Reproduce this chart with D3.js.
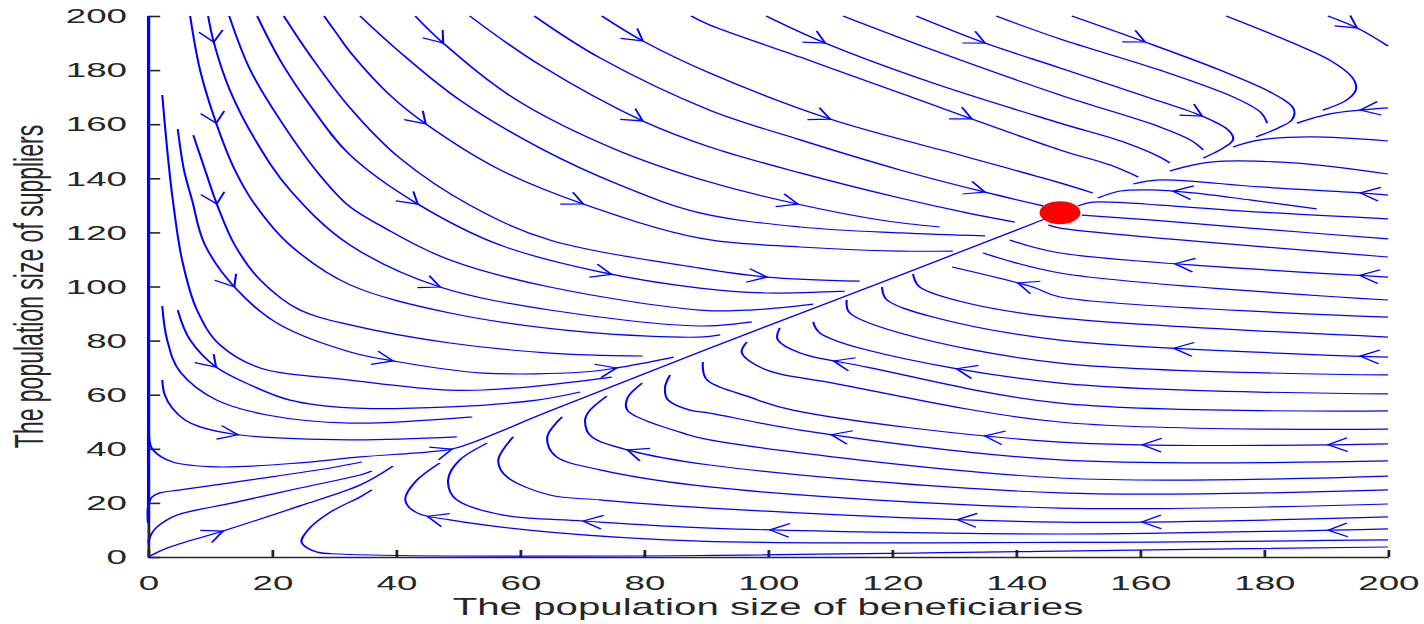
<!DOCTYPE html>
<html><head><meta charset="utf-8">
<script src="https://cdn.jsdelivr.net/npm/d3@7"></script>
<style>body{margin:0;background:#fff}svg{display:block}</style>
</head><body><svg id="c" width="1424" height="624"></svg>
<script>
// ---------- data ----------
const xTicks = [0,20,40,60,80,100,120,140,160,180,200];
const yTicks = [0,20,40,60,80,100,120,140,160,180,200];
const xTitle = "The population size of beneficiaries";
const yTitle = "The population size of suppliers";
const equilibrium = [147.1, 127.3];

// streamlines entering from the top (flow: down / right)
const streamsTop = [
 [[190.3,200],[195.0,195.6],[200,188.9]],
 [[173.9,200],[184.7,190.0],[190.6,183.7],[194.2,177.4],[194.8,172.6],[193.1,168.6],[189.5,165.2]],
 [[149.0,200],[160.8,190.4],[172.9,180.0],[181.0,171.9],[184.7,166.0],[184.5,161.6],[182.3,158.6],[178.7,155.3]],
 [[136.8,200],[147.1,191.5],[163.2,180.0],[175.0,170.1],[179.4,164.5],[180.5,160.4]],
 [[123.9,200],[135.0,190.0],[147.1,180.8],[161.6,169.7],[170.0,163.0],[174.2,157.9],[175.0,154.2],[172.9,150.5],[170.2,147.5]],
 [[112.1,200],[126.6,187.4],[147.1,170.8],[163.2,159.0],[168.1,154.2],[170.2,150.5]],
 [[99.7,200],[109.2,190.0],[126.6,175.2],[147.1,160.4],[157.9,153.0],[163.2,147.9],[164.8,145.7]],
 [[87.6,200],[90.6,196.7],[105.2,184.8],[121.3,171.5],[147.1,150.5],[155.2,144.9],[159.7,140.5]],
 [[73.2,200],[79.8,190.8],[90.6,178.9],[110.0,161.9],[132.1,147.9],[147.1,138.3],[152.4,134.6]],
 [[62.3,200],[72.9,184.5],[90.6,165.2],[105.2,154.2],[121.3,143.1],[135.0,134.9],[144.4,129.8]],
 [[51.9,200],[63.2,181.9],[79.8,161.2],[90.6,151.6],[105.2,142.0],[121.3,132.7],[132.1,127.2],[139.8,123.8]],
 [[43.1,200],[47.6,190.0],[59.5,168.9],[75.6,150.5],[90.6,138.6],[104.7,130.5],[118.1,124.6],[127.7,122.0]],
 [[34.2,200],[40.6,186.7],[50.3,168.9],[63.2,151.2],[76.1,137.5],[89.0,127.2],[105.2,122.0],[121.3,119.8],[135.0,118.7]],
 [[28.4,200],[30.5,193.3],[32.6,186.7],[39.0,170.8],[44.8,160.1],[56.8,143.1],[70.2,130.5],[89.0,117.9],[105.2,114.6],[121.3,113.1],[129.8,113.1]],
 [[21.9,200],[26.1,185.6],[32.6,166.0],[40.6,147.5],[51.9,130.1],[64.8,117.2],[89.0,106.8],[99.8,103.5],[114.8,102.0]],
 [[17.6,200],[21.3,183.7],[26.1,167.1],[32.6,148.6],[43.5,130.5],[56.8,115.3],[72.9,105.4],[89.0,99.4],[99.8,97.6],[112.4,98.3]],
 [[13.1,200],[16.5,180.0],[21.3,161.6],[27.7,141.2],[32.6,129.4],[37.9,122.0],[48.7,109.8],[64.8,99.8],[89.0,91.3],[97.1,91.3],[107.3,93.5]],
 [[9.7,200],[10.6,190.4],[13.2,172.6],[17.3,154.2],[22.9,135.7],[32.6,115.3],[47.1,99.8],[64.8,91.3],[89.0,85.4],[97.4,86.9]],
 [[6.8,200],[8.4,180.0],[11.0,160.4],[14.0,143.1],[17.3,130.1],[22.9,115.3],[32.6,100.6],[48.7,90.2],[70.2,83.2],[89.0,81.3],[92.3,82.1]]
];

// streamlines starting near the supplier axis (flow: down, then right)
const streamsLeft = [
 [[7.3,156.0],[9.2,143.1],[11.1,130.5],[14.0,115.3],[18.1,102.4],[24.5,91.3],[32.6,85.8],[48.7,79.1],[64.8,75.4],[79.8,74.3]],
 [[4.8,158.2],[5.8,143.1],[7.1,132.0],[9.2,115.3],[14.4,98.7],[21.3,85.8],[32.6,75.8],[39.5,72.5],[54.0,68.0],[70.2,68.4],[75.6,69.9],[84.8,73.9]],
 [[2.3,170.8],[3.1,150.5],[4.0,132.0],[5.5,109.8],[7.9,91.3],[11.6,78.4],[18.1,69.9],[32.6,65.4],[48.7,61.7],[59.5,62.5],[74.8,66.5]],
 [[4.8,91.3],[6.8,80.2],[11.0,70.2],[16.5,63.6],[22.9,58.0],[32.6,55.1],[48.7,55.5],[62.7,58.0],[69.7,61.0]],
 [[2.3,92.8],[3.1,80.2],[5.2,68.4],[11.1,58.0],[19.2,52.5],[32.6,49.5],[52.3,51.8]],
 [[2.3,65.4],[2.7,59.9],[3.9,55.1],[6.0,50.6],[8.4,48.1],[14.8,45.1],[32.6,43.3],[49.8,44.4]]
];

// streamlines near the origin, the axis line and the separatrix into the equilibrium
const streamsOrigin = [
 [[0,200],[0,12.6]],
 [[0.1,58.0],[0.1,45.8],[0.8,39.6],[4.0,35.1],[11.1,33.3],[24.5,34.8],[34.2,37.0],[45.0,38.8],[49.0,39.9],[65.2,54.3],[89.0,75.8],[121.3,104.2],[144.7,125.0],[147.1,127.2]],
 [[0,12.6],[0,18.5],[0.65,22.2],[1.9,23.7],[5.2,24.8],[16.5,28.5],[29.4,32.9],[34.5,35.1]],
 [[0,5.2],[0.65,8.9],[1.45,11.1],[4.7,15.5],[13.7,20.0],[24.5,25.5],[34.2,30.3],[36.1,31.8]],
 [[0,0],[3.1,3.3],[12.1,9.6],[24.5,18.9],[34.2,26.6],[39.5,33.6]],
 [[200,3.7],[147.1,2.2],[89.0,0.55],[40.6,0.55],[31.0,1.1],[27.3,1.8],[24.8,5.2],[25.8,10.0],[29.4,16.6],[34.2,22.2],[36.1,24.8]]
];

// streamlines entering from the right below the equilibrium (flow: left, then up to the separatrix)
const streamsLower = [
 [[200,6.3],[147.1,5.4],[89.0,5.9],[64.8,9.2],[48.7,13.7],[43.4,16.3],[41.5,21.1],[43.4,28.5],[47.1,34.8]],
 [[200,10.4],[147.1,8.5],[90.6,10.7],[70.2,13.3],[57.3,15.5],[49.8,21.1],[48.4,28.5],[50.3,35.9],[54.7,42.1]],
 [[200,14.8],[147.1,12.9],[90.6,18.1],[72.9,21.1],[64.8,22.9],[57.9,29.6],[56.5,35.9],[58.9,44.4]],
 [[200,19.6],[147.1,18.1],[90.6,25.9],[72.9,32.2],[65.9,37.0],[64.4,44.4],[66.8,51.8]],
 [[200,24.8],[147.1,23.7],[90.6,34.0],[77.3,39.6],[71.6,44.4],[70.5,50.6],[71.3,54.3],[74.0,59.5]],
 [[200,29.9],[147.1,29.2],[90.6,43.3],[86.3,45.8],[78.9,51.8],[77.3,54.3],[77.4,59.1],[79.7,64.3]],
 [[200,35.5],[147.1,35.9],[105.2,46.9],[90.6,53.2],[87.4,54.3],[83.9,58.0],[83.4,62.8],[84.2,67.3]],
 [[200,41.8],[147.1,42.5],[104.0,54.3],[97.1,59.1],[90.2,65.4],[89.5,72.1]],
 [[200,47.3],[147.1,49.9],[110.5,64.3],[99.8,69.1],[95.8,75.4],[96.6,79.5]],
 [[200,54.0],[147.1,56.9],[116.0,70.2],[105.2,75.4],[101.6,80.2],[101.9,84.7]],
 [[200,60.3],[147.1,64.3],[116.0,76.5],[108.4,82.8],[107.3,86.9]],
 [[200,67.3],[147.1,71.7],[121.3,82.8],[113.2,90.2],[112.7,95.0]],
 [[200,73.9],[147.1,80.2],[126.6,88.7],[119.2,95.0],[118.4,99.8]],
 [[200,81.3],[147.1,88.4],[132.1,93.9],[124.5,99.8],[123.4,104.6]],
 [[200,88.7],[147.1,96.1],[142.7,99.8],[129.7,107.2]],
 [[200,95.0],[147.1,105.0],[134.7,112.4]],
 [[200,103.5],[147.1,112.4],[139.0,117.2]],
 [[200,110.9],[147.1,121.6],[145.2,122.7]]
];

// streamlines entering from the right above the equilibrium (flow: left)
const streamsRight = [
 [[200,125.0],[179.4,127.5],[163.2,130.1],[157.9,130.9],[152.4,131.2],[150.0,129.8]],
 [[200,117.6],[177.7,121.6],[161.6,124.6],[150.6,126.4]],
 [[188.5,128.7],[177.7,132.0],[168.5,134.6],[161.6,135.7],[156.8,135.3],[153.2,132.7]],
 [[200,133.8],[195.5,134.6],[179.4,136.8],[163.2,139.4],[158.9,137.9]],
 [[200,141.6],[184.7,145.7],[171.3,146.0],[164.8,142.7]],
 [[200,153.8],[187.4,155.3],[179.4,154.2],[175.0,151.6]],
 [[200,166.0],[195.5,165.2],[190.6,163.8],[185.3,160.4]]
];

// where the arrowheads sit
const arrowPts = [
 [10.6,190.4],[47.6,190.0],[79.8,190.8],[109.2,190.0],[135.0,190.0],[160.8,190.4],[195.0,195.6],
 [11.0,160.4],[44.8,160.1],[79.8,161.2],[110.0,161.9],[132.1,160.4],[170.0,163.0],[195.5,165.2],
 [11.1,130.5],[43.5,130.5],[70.2,130.5],[104.7,130.1],[135.0,134.9],[165.3,134.9],[195.5,134.6],
 [14.4,100.2],[47.1,99.8],[75.0,105.4],[99.8,103.5],[139.8,99.8],[165.3,105.0],[195.5,105.0],
 [11.0,70.2],[39.5,72.5],[75.6,69.9],[110.0,69.9],[130.5,69.9],[165.3,74.7],[195.5,74.7],
 [14.5,45.1],[49.0,39.9],[77.3,39.6],[110.0,44.0],[135.0,45.1],[160.3,40.3],[190.3,42.5],
 [12.1,9.6],[45.0,14.8],[70.2,13.7],[100.3,10.0],[130.5,13.7],[160.3,11.8],[190.3,11.1]
];

// ---------- drawing ----------
const SX = 1.75;                      // the picture is stretched horizontally
const font = '"Liberation Sans", Arial, Helvetica, sans-serif';
const ink = '#262626';
const blue = '#0000ff';

const svg = d3.select('#c');
const g = svg.append('g').attr('transform', `scale(${SX},1)`);

const x = d3.scaleLinear().domain([0,200]).range([148/SX, 1388/SX]);
const y = d3.scaleLinear().domain([0,200]).range([557, 16]);

// axes
const gx = g.append('g').attr('transform', `translate(0,${y(0)})`)
  .call(d3.axisBottom(x).tickValues(xTicks).tickSizeInner(-7).tickSizeOuter(0).tickPadding(18));
const gy = g.append('g').attr('transform', `translate(${x(0)},0)`)
  .call(d3.axisLeft(y).tickValues(yTicks).tickSizeInner(-7).tickSizeOuter(0).tickPadding(12));
[gx, gy].forEach(a => {
  a.select('.domain').attr('stroke', ink).attr('stroke-width', 1.6);
  a.selectAll('.tick line').attr('stroke', ink).attr('stroke-width', 1.6);
  a.selectAll('.tick text').attr('fill', ink).style('font-family', font).style('font-size', '21px');
});

g.append('text').attr('x', (x(0)+x(200))/2).attr('y', 615)
  .attr('text-anchor','middle').attr('fill', ink)
  .style('font-family', font).style('font-size','23px').text(xTitle);
g.append('text').attr('transform', `translate(24.6,${(y(0)+y(200))/2}) rotate(-90)`)
  .attr('text-anchor','middle').attr('fill', ink)
  .style('font-family', font).style('font-size','23px').text(yTitle);

// streamlines
const line = d3.line().x(d => x(d[0])).y(d => y(d[1])).curve(d3.curveCatmullRom.alpha(0.5));
const allStreams = [...streamsTop, ...streamsLeft, ...streamsOrigin, ...streamsLower, ...streamsRight];
const paths = g.append('g').selectAll('path').data(allStreams).join('path')
  .attr('d', line).attr('fill','none').attr('stroke', blue).attr('stroke-width', 1.2)
  .attr('stroke-linejoin','round');

// arrowheads placed on the nearest streamline, oriented with the flow
const samples = paths.nodes().map(n => {
  const L = n.getTotalLength(); const pts = [];
  for (let l = 0; l <= L; l += 2) { const p = n.getPointAtLength(l); pts.push([p.x, p.y, l]); }
  return {n, L, pts};
});
const arrowG = g.append('g');
arrowPts.forEach(([ax, ay]) => {
  const px = x(ax), py = y(ay);
  let best = null, bd = Infinity;
  samples.forEach(s => s.pts.forEach(p => {
    const d = (p[0]-px)**2 + (p[1]-py)**2;
    if (d < bd) { bd = d; best = {s, l: p[2]}; }
  }));
  let {s, l} = best;
  for (let t = Math.max(0, l-2); t <= Math.min(s.L, l+2); t += 0.25) {
    const p = s.n.getPointAtLength(t); const d = (p.x-px)**2 + (p.y-py)**2;
    if (d < bd) { bd = d; l = t; }
  }
  const tip = s.n.getPointAtLength(l);
  const a = s.n.getPointAtLength(Math.max(0, l-1.5)), b = s.n.getPointAtLength(Math.min(s.L, l+1.5));
  let tx = b.x - a.x, ty = b.y - a.y; const m = Math.hypot(tx, ty) || 1; tx /= m; ty /= m;
  const bx = -tx, by = -ty, ang = 32*Math.PI/180, len = 13;
  const r = s2 => [bx*Math.cos(s2*ang) - by*Math.sin(s2*ang), bx*Math.sin(s2*ang) + by*Math.cos(s2*ang)];
  const r1 = r(1), r2 = r(-1);
  arrowG.append('path')
    .attr('d', `M${tip.x + r1[0]*len},${tip.y + r1[1]*len}L${tip.x},${tip.y}L${tip.x + r2[0]*len},${tip.y + r2[1]*len}`)
    .attr('fill','none').attr('stroke', blue).attr('stroke-width', 1.2);
});

// equilibrium point
g.append('ellipse').attr('cx', x(equilibrium[0])).attr('cy', y(equilibrium[1]))
  .attr('rx', 11.7).attr('ry', 11.5).attr('fill', '#ff0000');
</script></body></html>
